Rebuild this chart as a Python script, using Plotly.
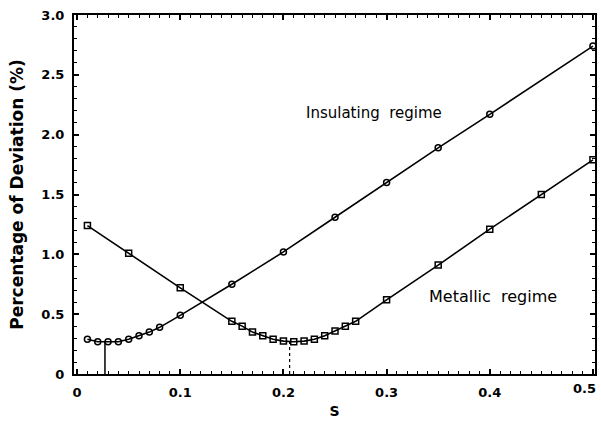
import plotly.graph_objects as go

# Insulating regime (circles)
s_ins = [0.01, 0.02, 0.03, 0.04, 0.05, 0.06, 0.07, 0.08, 0.10, 0.15, 0.20, 0.25, 0.30, 0.35, 0.40, 0.50]
dev_ins = [0.29, 0.27, 0.27, 0.27, 0.29, 0.32, 0.35, 0.39, 0.49, 0.75, 1.02, 1.31, 1.60, 1.89, 2.17, 2.74]

# Metallic regime (squares)
s_met = [0.01, 0.05, 0.10, 0.15, 0.16, 0.17, 0.18, 0.19, 0.20, 0.21, 0.22, 0.23, 0.24, 0.25, 0.26, 0.27,
         0.30, 0.35, 0.40, 0.45, 0.50]
dev_met = [1.24, 1.01, 0.72, 0.44, 0.40, 0.35, 0.32, 0.29, 0.275, 0.27, 0.275, 0.29, 0.32, 0.36, 0.40, 0.44,
           0.62, 0.91, 1.21, 1.50, 1.79]

# Minimum markers (vertical drop lines)
s_min_ins, dev_min_ins = 0.027, 0.27
s_min_met, dev_min_met = 0.206, 0.27

x_ticks = [0, 0.1, 0.2, 0.3, 0.4]
x_ticktext = ["0", "0.1", "0.2", "0.3", "0.4"]
x_last_tick, x_last_text = 0.5, "0.5"
y_ticks = [0, 0.5, 1.0, 1.5, 2.0, 2.5, 3.0]
y_ticktext = ["0", "0.5", "1.0", "1.5", "2.0", "2.5", "3.0"]

FONT = "DejaVu Sans, sans-serif"
TICKFONT = dict(family=FONT, size=13, color="black", weight="bold")

fig = go.Figure()

fig.add_trace(go.Scatter(
    x=[s_min_ins, s_min_ins], y=[0, dev_min_ins], mode="lines",
    line=dict(color="black", width=1.5), showlegend=False, hoverinfo="skip"))
fig.add_trace(go.Scatter(
    x=[s_min_met, s_min_met], y=[0, dev_min_met], mode="lines",
    line=dict(color="black", width=1.2, dash="dot"), showlegend=False, hoverinfo="skip"))

fig.add_trace(go.Scatter(
    x=s_ins, y=dev_ins, mode="lines+markers",
    line=dict(color="black", width=1.6),
    marker=dict(symbol="circle-open", size=6, color="black", line=dict(width=1.5)),
    showlegend=False, cliponaxis=False))
fig.add_trace(go.Scatter(
    x=s_met, y=dev_met, mode="lines+markers",
    line=dict(color="black", width=1.6),
    marker=dict(symbol="square-open", size=6, color="black", line=dict(width=1.5)),
    showlegend=False, cliponaxis=False))

fig.add_annotation(x=0.288, y=2.18, xref="x", yref="y", text="Insulating\u00a0\u00a0regime",
                   showarrow=False, font=dict(family=FONT, size=15, color="black"))
fig.add_annotation(x=0.403, y=0.65, xref="x", yref="y", text="Metallic\u00a0\u00a0regime",
                   showarrow=False, font=dict(family=FONT, size=16, color="black"))
# last x tick label, kept inside the page at the right edge
fig.add_annotation(x=1, y=0, xref="paper", yref="paper", xanchor="right", yanchor="top",
                   xshift=3, yshift=-5, text=x_last_text, showarrow=False, font=TICKFONT)

axis_common = dict(
    showline=True, linecolor="black", linewidth=2, mirror="ticks",
    ticks="inside", ticklen=5, tickwidth=1.5, tickcolor="black",
    showgrid=False, zeroline=False,
    tickfont=TICKFONT,
)

fig.update_xaxes(
    range=[-0.003, 0.502], tickvals=x_ticks + [x_last_tick], ticktext=x_ticktext + [""],
    minor=dict(dtick=0.01, ticks="inside", ticklen=3, tickcolor="black", tickwidth=1),
    title=dict(text="S", font=dict(family=FONT, size=14, color="black", weight="bold"), standoff=8),
    ticklabelstandoff=5,
    **axis_common)
fig.update_yaxes(
    range=[0, 3.0], tickvals=y_ticks, ticktext=y_ticktext,
    minor=dict(dtick=0.1, ticks="inside", ticklen=3, tickcolor="black", tickwidth=1),
    title=dict(text="Percentage of Deviation (%)",
               font=dict(family=FONT, size=17, color="black", weight="bold"), standoff=13),
    ticklabelstandoff=5,
    **axis_common)

fig.update_layout(
    width=601, height=421,
    margin=dict(l=74, r=4, t=15, b=46),
    paper_bgcolor="white", plot_bgcolor="white",
    font=dict(family=FONT, color="black"),
)

fig.write_html("out.html")
